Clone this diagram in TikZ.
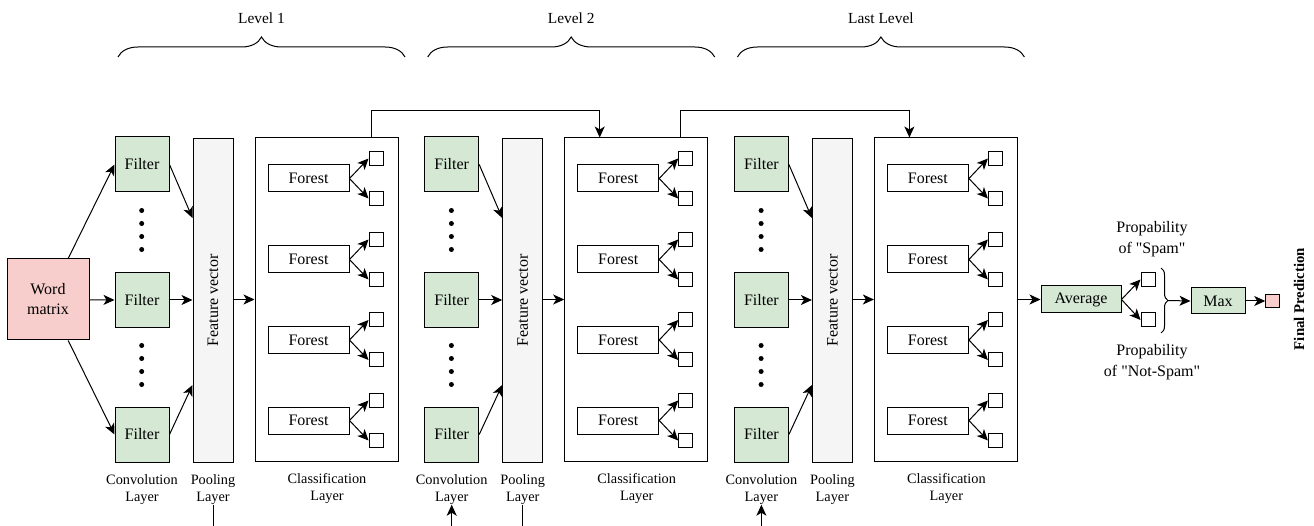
\documentclass[tikz,border=0pt]{standalone}
\usepackage{fontspec}
\setmainfont{Liberation Serif}[Ligatures=TeXOff]
\usetikzlibrary{arrows.meta,decorations.pathreplacing}
\definecolor{wordred}{HTML}{F8CECC}
\definecolor{filtgreen}{HTML}{D5E8D4}
\definecolor{poolgray}{HTML}{F5F5F5}
\tikzset{
  box/.style={draw,line width=1pt,inner sep=0pt,font=\fontsize{16}{20}\selectfont},
  filt/.style={box,fill=filtgreen,minimum width=54pt,minimum height=55pt},
  pool/.style={box,fill=poolgray,minimum width=40pt,minimum height=323pt},
  clsbox/.style={box,minimum width=143pt,minimum height=323pt},
  forest/.style={box,minimum width=81pt,minimum height=27pt},
  outsq/.style={draw,line width=1pt,minimum size=14pt,inner sep=0pt},
  lbl/.style={align=center,inner sep=0pt,font=\fontsize{14.3}{17}\selectfont},
  arr/.style={-{Stealth[length=11pt,width=10pt,inset=3pt]},line width=1pt},
}
\begin{document}
\begin{tikzpicture}[x=1pt,y=-1pt]
  \useasboundingbox (0,0) rectangle (1314,526);
  \node[box,fill=wordred,minimum width=82pt,minimum height=81pt,align=center] (wm) at (48,299.5) {Word\\matrix};
  \foreach \i/\o/\t in {1/0/Level 1,2/309.7/Level 2,3/619.4/Last Level} {
    \node[filt] (fa\i) at (142+\o,164.5) {Filter}; \node[filt] (fb\i) at (142+\o,300) {Filter}; \node[filt] (fc\i) at (142+\o,434.5) {Filter};
    \foreach \d in {0,13,26,39} {\fill (141.7+\o,210.5+\d) circle (2.5pt); \fill (141.7+\o,345.5+\d) circle (2.5pt);}
    \node[pool] (p\i) at (213+\o,300.5) {\rotatebox{90}{Feature vector}};
    \node[clsbox] (c\i) at (326.5+\o,299.5) {};
    \draw[arr] (fa\i.east) -- ([yshift=82.5pt]p\i.west); \draw[arr] (fb\i.east) -- (fb\i.east -| p\i.west); \draw[arr] (fc\i.east) -- ([yshift=-84.5pt]p\i.west);
    \draw[arr] (p\i.east |- c\i.west) -- (c\i.west);
    \foreach \j/\y in {1/178.5,2/259.5,3/340,4/420.5} {
      \node[forest] (fo\i\j) at (308.5+\o,\y) {Forest};
      \node[outsq] (su\i\j) at (376+\o,\y-20) {}; \node[outsq] (sd\i\j) at (376+\o,\y+20) {};
      \draw[arr] (fo\i\j.east) -- (su\i\j.west); \draw[arr] (fo\i\j.east) -- (sd\i\j.west);
    }
    \node[lbl] (lc\i) at (142+\o,489.5) {Convolution\\Layer}; \node[lbl] (lp\i) at (213+\o,489.5) {Pooling\\Layer}; \node[lbl] (lk\i) at (327+\o,488.5) {Classification\\Layer};
    \draw[decorate,decoration={brace,amplitude=20pt},line width=1pt] (118+\o,57) -- (405+\o,57);
    \node[font=\fontsize{15.4}{18}\selectfont] (lv\i) at (261.5+\o,18) {\t};
  }
  \foreach \d in {fa1,fb1,fc1} \draw[arr] (wm) -- (\d.west);
  \foreach \i/\n in {1/2,2/3} {
    \draw[arr] ([xshift=44.5pt]c\i.north) -- ++(0,-27) -| ([xshift=-36.5pt]c\n.north);
    \draw[arr] (lp\i.south) -- ++(0,40) -| (lc\n.south);
  }
  \node[box,fill=filtgreen,minimum width=80pt,minimum height=27pt] (avg) at (1081,299.5) {Average};
  \draw[arr] (c3.east) -- (avg.west);
  \node[outsq] (ps) at (1148,279.5) {}; \node[outsq] (pn) at (1148,320) {};
  \draw[arr] (avg.east) -- (ps.west); \draw[arr] (avg.east) -- (pn.west);
  \node[lbl,font=\fontsize{16}{21}\selectfont] (tps) at (1152,239.5) {Propability\\of "Spam"};
  \node[lbl,font=\fontsize{16}{21}\selectfont] (tpn) at (1152,362) {Propability\\of "Not-Spam"};
  \draw[decorate,decoration={brace,amplitude=7pt},line width=1pt] (1161,268) -- (1161,333);
  \coordinate (bt) at (1168,300.5);
  \node[box,fill=filtgreen,minimum width=54pt,minimum height=26pt] (mx) at (1218,301) {Max};
  \draw[arr] (bt) -- (mx.west);
  \node[outsq,fill=wordred,minimum size=13.5pt] (fp) at (1272.5,301) {};
  \draw[arr] (mx.east) -- (fp.west);
  \node[font=\bfseries\fontsize{14.8}{17}\selectfont,rotate=90] (fpl) at (1299,299) {Final Prediction};
\end{tikzpicture}
\end{document}
